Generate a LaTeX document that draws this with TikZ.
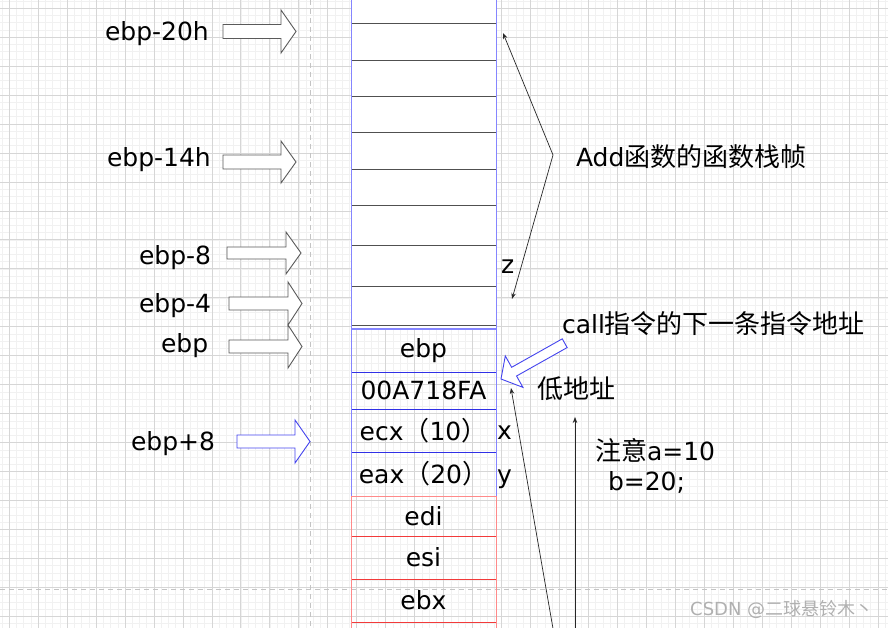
\documentclass[tikz,border=0pt]{standalone}
\usepackage{fontspec}
\setmainfont{DejaVu Sans}
\newfontfamily\cjk{Noto Sans CJK SC}
\usetikzlibrary{arrows.meta}
\definecolor{gridmaj}{HTML}{D6D6D6}
\definecolor{gridmin}{HTML}{F1F1F1}
\definecolor{pagedash}{HTML}{C4C4C4}
\definecolor{cellgray}{HTML}{505050}
\definecolor{bluebox}{HTML}{8585FF}
\definecolor{bluediv}{HTML}{3030E6}
\definecolor{redbox}{HTML}{FF8A8A}
\definecolor{reddiv}{HTML}{F23A3A}
\definecolor{arrowgray}{HTML}{5A5A5A}
\definecolor{blockblue}{HTML}{4444EE}
\definecolor{wmgray}{HTML}{B0B0B0}
\newcommand{\latsize}{\fontsize{25}{30}\selectfont}
\newcommand{\cj}{\cjk\fontsize{26}{30}\selectfont}
\newcommand{\blockarr}[7][arrowgray]{%
  \draw[draw=#1, fill=white, line width=0.9pt, line join=miter]
    (#2,#5-#6) -- (#3,#5-#6) -- (#3,#5-#7) -- (#4,#5) -- (#3,#5+#7) -- (#3,#5+#6) -- (#2,#5+#6) -- cycle;}
\tikzset{
  cellbox/.style={line width=1pt, minimum width=145pt, inner sep=0pt, outer sep=0pt,
    anchor=north west, font=\latsize},
  graycell/.style={cellbox, draw=cellgray},
  bluecell/.style={cellbox, draw=bluediv},
  redcell/.style={cellbox, draw=reddiv},
  lbl/.style={inner sep=0pt, outer sep=0pt, anchor=base west, font=\latsize, text=black},
  thinarrow/.style={draw=black!85, line width=0.7pt},
  mytip/.tip={Stealth[length=6pt,width=4.5pt]}
}
\begin{document}
\begin{tikzpicture}[x=1pt,y=-1pt]
\useasboundingbox (0,0) rectangle (888,628);
\clip (0,0) rectangle (888,628);
\fill[white] (0,0) rectangle (888,628);
% grid
\begin{scope}[xshift=9.3pt, yshift=-8.3pt]
  \draw[gridmin, line width=0.8pt, step=7.24pt] (-30pt,-660pt) grid (900pt,30pt);
  \draw[gridmaj, line width=1pt, step=28.96pt] (-30pt,-660pt) grid (900pt,30pt);
\end{scope}
% page break lines
\draw[pagedash, line width=1pt, dash pattern=on 5pt off 4pt] (310.7,0) -- (310.7,628);
\draw[pagedash, line width=1pt, dash pattern=on 5pt off 4pt] (0,589.3) -- (888,589.3);

% upper frame (Add stack frame)
\fill[white] (351,-5) rectangle (496,328);
\node[graycell, minimum height=37pt] (g1) at (351,24) {};
\node[graycell, minimum height=36pt] (g2) at (351,61) {};
\node[graycell, minimum height=36pt] (g3) at (351,97) {};
\node[graycell, minimum height=37pt] (g4) at (351,133) {};
\node[graycell, minimum height=36pt] (g5) at (351,170) {};
\node[graycell, minimum height=40pt] (g6) at (351,206) {};
\node[graycell, minimum height=40pt] (g7) at (351,246) {};
\node[graycell, minimum height=39pt] (g8) at (351,286) {};
\draw[bluebox, line width=1pt] (351,-5) rectangle (496,328);

% blue block
\node[bluecell, minimum height=43pt] (c1) at (351,329) {ebp};
\node[bluecell, minimum height=37pt] (c2) at (351,372) {00A718FA};
\node[bluecell, minimum height=43pt] (c3) at (351,409) {ecx{\cj （}10{\cj ）}};
\node[bluecell, minimum height=44pt] (c4) at (351,452) {eax{\cj （}20{\cj ）}};
\draw[bluebox, line width=1pt] (351,329) rectangle (496,496);

% red block
\node[redcell, minimum height=40pt] (r1) at (351,496) {edi};
\node[redcell, minimum height=43pt] (r2) at (351,536) {esi};
\node[redcell, minimum height=43pt] (r3) at (351,579) {ebx};
\node[redcell, minimum height=40pt] (r4) at (351,622) {};
\draw[redbox, line width=1pt] (351,496) rectangle (496,665);

% variable labels
\node[lbl] (lx) at (497,439) {x};
\node[lbl] (ly) at (497,483) {y};
\node[lbl] (lz) at (501,273) {z};

% left labels
\node[lbl] (l20) at (105,41) {ebp-20h};
\node[lbl] (l14) at (107,167) {ebp-14h};
\node[lbl] (l8) at (139,265) {ebp-8};
\node[lbl] (l4) at (139,312) {ebp-4};
\node[lbl] (l0) at (161,352) {ebp};
\node[lbl] (lp8) at (131,450) {ebp+8};

% block arrows
\blockarr{223}{281}{296}{31.5}{7}{21.5}
\blockarr{223}{281}{296}{162}{7}{21}
\blockarr{227}{286}{301}{253}{6}{21}
\blockarr{229}{288}{302}{303.5}{6.5}{21.5}
\blockarr{229}{288}{302}{346.5}{6.5}{21.5}
\blockarr[blockblue]{237}{295}{310}{441.5}{6.5}{21.5}

% slanted blue block arrow
\draw[draw=blockblue, fill=white, line width=0.9pt, line join=miter]
  (501,379) -- (505.3,355.95) -- (511.65,367.3) -- (562.25,338.84) -- (567.15,347.56)
  -- (516.55,376.0) -- (522.9,387.35) -- cycle;

% bracket arrows
\coordinate (bt) at (503,33);
\coordinate (bv) at (553,155);
\coordinate (bb) at (512,299);
\draw[thinarrow, {mytip}-{mytip}] (bt) -- (bv) -- (bb);

% long arrows from below
\coordinate (la0) at (555,640);
\coordinate (la1) at (511,388);
\draw[thinarrow, -{mytip}] (la0) -- (la1);
\coordinate (va0) at (575,640);
\coordinate (va1) at (575,417);
\draw[thinarrow, -{mytip}] (va0) -- (va1);

% right texts
\node[lbl] (frame) at (576,167) {Add{\cj 函数的函数栈帧}};
\node[lbl] (callt) at (562,333) {call{\cj 指令的下一条指令地址}};
\node[lbl] (low) at (537,398) {{\cj 低地址}};
\node[lbl] (note1) at (595,460) {{\cj 注意}a=10};
\node[lbl] (note2) at (608,490) {b=20;};

% watermark
\node[inner sep=0pt, anchor=base west, text=wmgray, font=\fontsize{18}{20}\selectfont] (wm) at (690,615) {CSDN @{\cjk 二球悬铃木丶}};
\end{tikzpicture}
\end{document}
